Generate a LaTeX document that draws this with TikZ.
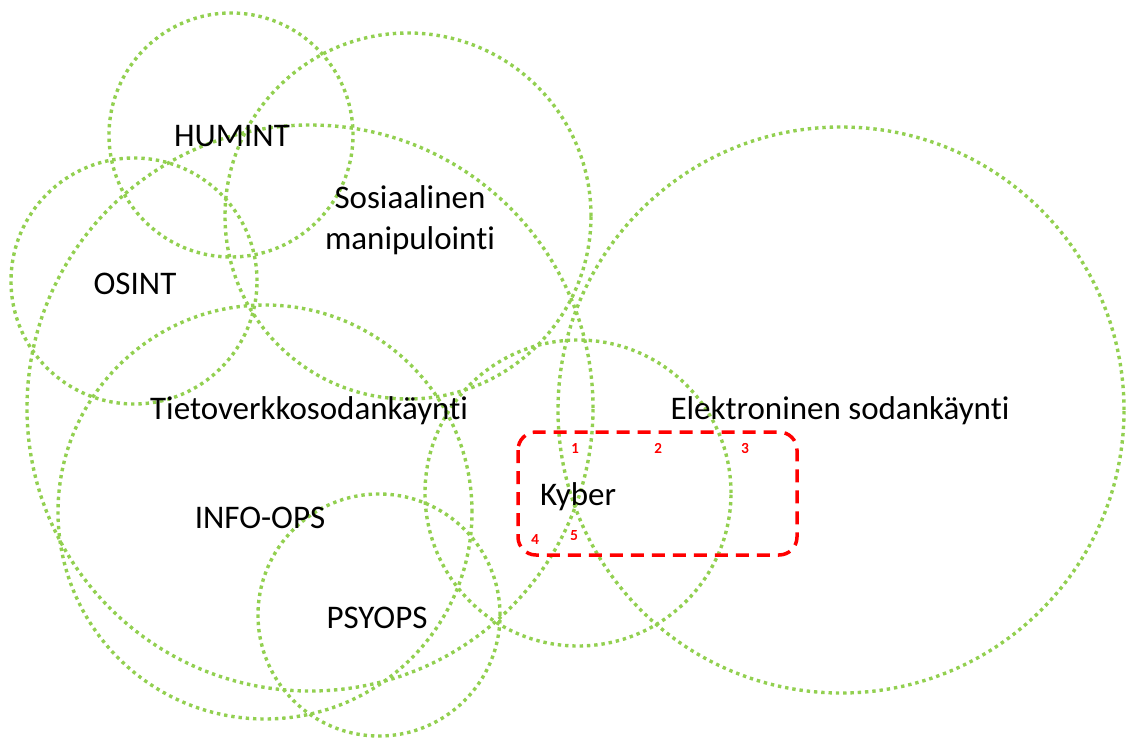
\documentclass[tikz,border=0pt]{standalone}
\usepackage{fontspec}
\setmainfont[RawFeature={-liga;-clig;-calt;-dlig}]{Carlito}
\definecolor{ringgreen}{RGB}{146,208,80}
\begin{document}
\begin{tikzpicture}[x=1pt,y=-1pt,
  ring/.style={draw=ringgreen, line width=3.4pt, dash pattern=on 3.4pt off 3.9pt},
  kybox/.style={draw=red, line width=3.5pt, dash pattern=on 13pt off 8pt, rounded corners=18pt},
  lbl/.style={font=\fontsize{33}{41}\selectfont, text=black, inner sep=0pt, align=center},
  num/.style={font=\fontsize{15}{17}\selectfont, text=red, inner sep=0pt}]
\useasboundingbox (0,0) rectangle (1133,738);
% circles
\draw[ring] (231,135) circle[radius=122pt];   % HUMINT
\draw[ring] (408,216) circle[radius=183pt];   % Sosiaalinen manipulointi
\draw[ring] (134,281) circle[radius=123pt];   % OSINT
\draw[ring] (310,408) circle[radius=283pt];   % Tietoverkkosodankaynti
\draw[ring] (265,512) circle[radius=207pt];   % INFO-OPS
\draw[ring] (379,615) circle[radius=121pt];   % PSYOPS
\draw[ring] (578,493) circle[radius=153pt];   % Kyber
\draw[ring] (841,410) circle[radius=283pt];   % Elektroninen
% Kyber box
\draw[kybox] (518,432) rectangle (797,555);
% labels
\node[lbl] (humint) at (232,136) {HUMINT};
\node[lbl] (sosman) at (410,220) {Sosiaalinen\\manipulointi};
\node[lbl] (osint) at (135,284) {OSINT};
\node[lbl] (tieto) at (309,411) {Tietoverkkosodankäynti};
\node[lbl] (elekt) at (840,411) {Elektroninen sodankäynti};
\node[lbl] (infoops) at (260,518) {INFO-OPS};
\node[lbl] (psyops) at (377,618) {PSYOPS};
\node[lbl] (kyber) at (578,497) {Kyber};
\node[num] (n1) at (575,448) {\addfontfeature{FakeBold=1.5}1};
\node[num] (n2) at (658,448) {\addfontfeature{FakeBold=1.5}2};
\node[num] (n3) at (745,448) {\addfontfeature{FakeBold=1.5}3};
\node[num] (n4) at (535,539) {\addfontfeature{FakeBold=1.5}4};
\node[num] (n5) at (574,535) {\addfontfeature{FakeBold=1.5}5};
\end{tikzpicture}
\end{document}
